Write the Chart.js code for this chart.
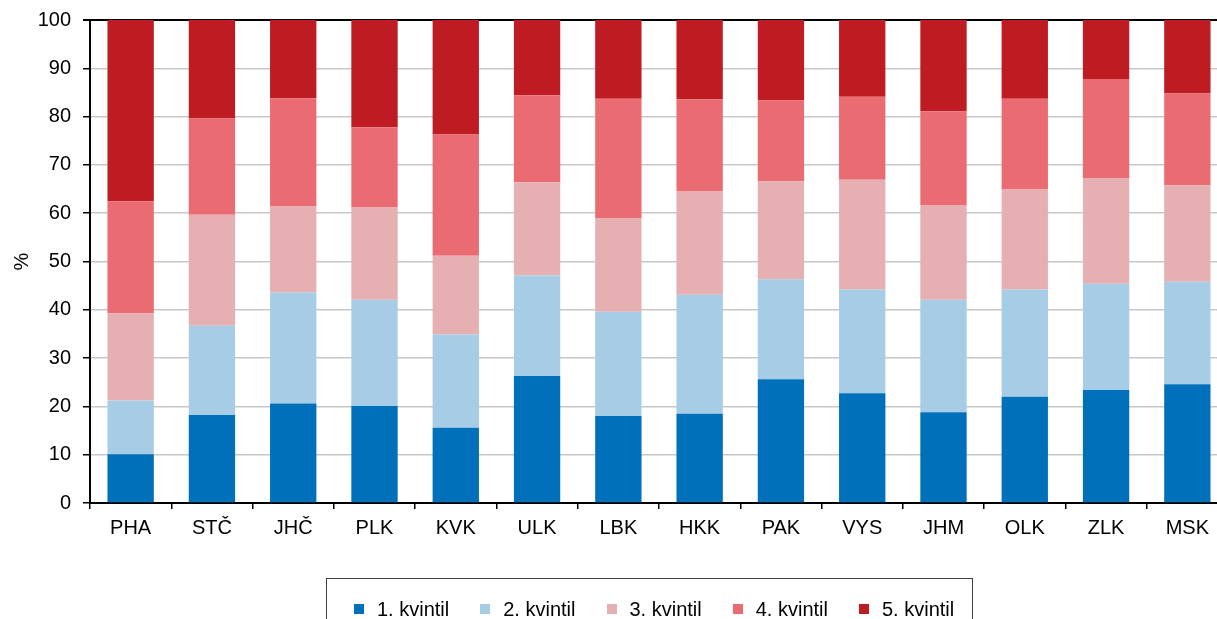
<!DOCTYPE html>
<html>
<head>
<meta charset="utf-8">
<script src="https://cdn.jsdelivr.net/npm/chart.js@4"></script>
<style>
  body { margin: 0; overflow: hidden; background: #fff; }
  #wrap { position: relative; width: 1217px; height: 619px; overflow: hidden; }
  #chart { position: absolute; left: 0; top: 0; }
  #legend {
    position: absolute; left: 326px; top: 578px; width: 647px; height: 50px;
    border: 1px solid #404040; box-sizing: border-box;
    display: flex; align-items: flex-start; padding: 18px 0 0 27px; white-space: nowrap;
    font-family: "Liberation Sans", Arial, sans-serif; font-size: 20px; line-height: 24px; color: #000;
  }
  .item { display: flex; align-items: center; flex-shrink: 0; margin-right: 31px; }
  .sq { width: 10px; height: 10px; margin-right: 13px; flex-shrink: 0; }
</style>
</head>
<body>
<div id="wrap">
  <canvas id="chart" width="1228" height="619"></canvas>
  <div id="legend"></div>
</div>
<script>
const regions = ['PHA','STČ','JHČ','PLK','KVK','ULK','LBK','HKK','PAK','VYS','JHM','OLK','ZLK','MSK'];
const seriesNames = ['1. kvintil','2. kvintil','3. kvintil','4. kvintil','5. kvintil'];
const q1 = [10.1, 18.2, 20.6, 20.1, 15.6, 26.3, 18.0, 18.5, 25.6, 22.7, 18.8, 22.0, 23.4, 24.6];
const q2 = [11.1, 18.5, 23.0, 22.0, 19.3, 20.8, 21.6, 24.6, 20.7, 21.5, 23.3, 22.2, 22.0, 21.2];
const q3 = [18.1, 23.0, 17.9, 19.1, 16.3, 19.3, 19.4, 21.4, 20.3, 22.7, 19.6, 20.7, 21.9, 20.0];
const q4 = [23.2, 19.9, 22.3, 16.6, 25.1, 18.0, 24.7, 19.1, 16.8, 17.2, 19.4, 18.8, 20.5, 19.0];
const q5 = [37.5, 20.4, 16.2, 22.2, 23.7, 15.6, 16.3, 16.4, 16.6, 15.9, 18.9, 16.3, 12.2, 15.2];
const colors = ['#0070BA','#A6CCE6','#E6AFB2','#EA6B72','#BE1B22'];

const font = { family: '"Liberation Sans", Arial, sans-serif', size: 20, lineHeight: 1 };
const allSeries = [q1, q2, q3, q4, q5];

let chart = new Chart(document.getElementById('chart'), {
  type: 'bar',
  data: {
    labels: regions,
    datasets: allSeries.map((d, i) => ({
      label: seriesNames[i],
      data: d,
      backgroundColor: colors[i],
      borderWidth: 0,
      barPercentage: 0.57,
      categoryPercentage: 1
    }))
  },
  options: {
    responsive: false,
    animation: false,
    layout: { padding: { top: 0, left: 0, right: 0, bottom: 0 } },
    plugins: { legend: { display: false }, tooltip: { enabled: false } },
    scales: {
      x: {
        stacked: true,
        grid: { drawOnChartArea: false, color: '#000', lineWidth: 1.5, tickLength: 6, offset: true },
        border: { color: '#000', width: 2 },
        ticks: { font: font, color: '#000', padding: 9, maxRotation: 0 },
        afterFit: s => { s.height = 116; }
      },
      y: {
        stacked: true,
        min: 0, max: 100,
        ticks: { stepSize: 10, font: font, color: '#000', padding: 12 },
        grid: {
          color: c => c.tick && c.tick.value === 100 ? '#000' : '#c8c8c8',
          lineWidth: c => c.tick && c.tick.value === 100 ? 2 : 1.5,
          tickColor: '#000', tickLength: 7
        },
        border: { color: '#000', width: 2 },
        title: { display: true, text: '%', font: font, color: '#000', padding: { top: 12, bottom: 0 } },
        afterFit: s => { s.width = 90; s.paddingTop = 20; }
      }
    }
  }
});

// legend
const lg = document.getElementById('legend');
seriesNames.forEach((n, i) => {
  const it = document.createElement('div');
  it.className = 'item';
  it.innerHTML = '<span class="sq" style="background:' + colors[i] + '"></span><span>' + n + '</span>';
  lg.appendChild(it);
});
</script>
</body>
</html>
